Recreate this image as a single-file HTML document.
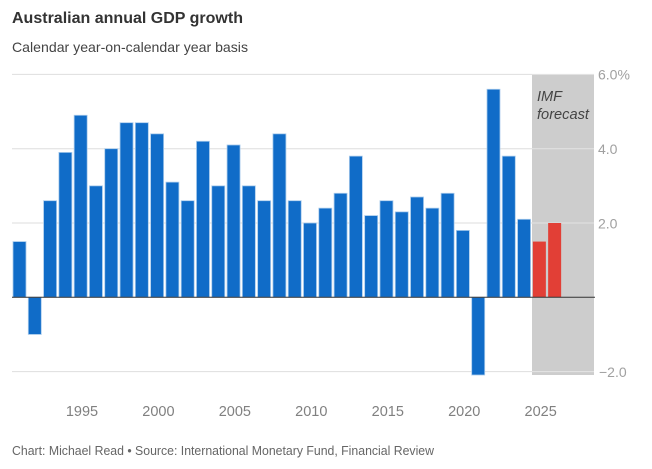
<!DOCTYPE html>
<html>
<head>
<meta charset="utf-8">
<style>
html,body{margin:0;padding:0;background:#fff;}
svg{display:block;font-family:"Liberation Sans",sans-serif;}
</style>
</head>
<body>
<svg id="chart" width="652" height="469" viewBox="0 0 652 469" xmlns="http://www.w3.org/2000/svg">
<text x="12" y="23" font-size="15.5" font-weight="700" fill="#333" textLength="231" lengthAdjust="spacingAndGlyphs">Australian annual GDP growth</text>
<text x="12" y="52" font-size="14" fill="#444" textLength="236" lengthAdjust="spacingAndGlyphs">Calendar year-on-calendar year basis</text>
<rect x="532" y="74.5" width="62" height="300.5" fill="#cdcdcd"></rect>
<g id="grid"></g>
<g id="bars"></g>
<line x1="12" x2="595" y1="297.3" y2="297.3" stroke="#333" stroke-width="1"></line>
<g id="yticks"></g>
<g id="xticks"></g>
<text x="537" y="101" font-size="14.5" font-style="italic" fill="#444" textLength="25" lengthAdjust="spacingAndGlyphs">IMF</text>
<text x="537" y="119" font-size="14.5" font-style="italic" fill="#444" textLength="52" lengthAdjust="spacingAndGlyphs">forecast</text>
<text x="12" y="455" font-size="12.5" fill="#666" textLength="422" lengthAdjust="spacingAndGlyphs">Chart: Michael Read • Source: International Monetary Fund, Financial Review</text>
</svg>
<script>
const years = [1991,1992,1993,1994,1995,1996,1997,1998,1999,2000,2001,2002,2003,2004,2005,2006,2007,2008,2009,2010,2011,2012,2013,2014,2015,2016,2017,2018,2019,2020,2021,2022,2023,2024,2025,2026];
const growth = [1.5,-1,2.6,3.9,4.9,3,4,4.7,4.7,4.4,3.1,2.6,4.2,3,4.1,3,2.6,4.4,2.6,2,2.4,2.8,3.8,2.2,2.6,2.3,2.7,2.4,2.8,1.8,-2.1,5.6,3.8,2.1,1.5,2];
const forecastYears = [2025,2026];
const yTickValues = [6,4,2,-2];
const yTickLabels = ["6.0%","4.0","2.0","\u22122.0"];
const xTickYears = [1995,2000,2005,2010,2015,2020,2025];

const NS = "http://www.w3.org/2000/svg";
function xScale(year){ return 19.5 + (year - 1991) * 15.29; }
function yScale(v){ return 297.3 - v * 37.15; }

const gridG = document.getElementById("grid");
const barsG = document.getElementById("bars");
const yG = document.getElementById("yticks");
const xG = document.getElementById("xticks");

yTickValues.forEach(function(v, i){
  const y = yScale(v);
  const left = document.createElementNS(NS, "line");
  
  
  left.setAttribute("x1", 12);
  left.setAttribute("x2", 532);
  left.setAttribute("y1", y);
  left.setAttribute("y2", y);
  left.setAttribute("stroke", "#dedede");
  gridG.appendChild(left);
  const right = document.createElementNS(NS, "line");
  
  
  right.setAttribute("x1", 532);
  right.setAttribute("x2", 594);
  right.setAttribute("y1", y);
  right.setAttribute("y2", y);
  right.setAttribute("stroke", "#e4e4e4");
  gridG.appendChild(right);
  const t = document.createElementNS(NS, "text");
  
  
  t.setAttribute("x", v < 0 ? 599 : 598);
  t.setAttribute("y", y + 5.3);
  t.setAttribute("font-size", "14");
  t.setAttribute("fill", "#a0a0a0");
  t.textContent = yTickLabels[i];
  yG.appendChild(t);
});

years.forEach(function(year, i){
  const v = growth[i];
  const r = document.createElementNS(NS, "rect");
  
  
  const cx = xScale(year);
  const forecast = forecastYears.indexOf(year) >= 0;
  const y0 = yScale(0);
  const y1 = yScale(v);
  const bottomClip = 375;
  const top = Math.min(y0, y1);
  const bottom = Math.min(Math.max(y0, y1), bottomClip);
  r.setAttribute("x", cx - 6.5);
  r.setAttribute("width", 13);
  r.setAttribute("y", top);
  r.setAttribute("height", bottom - top);
  r.setAttribute("fill", forecast ? "#e23f36" : "#106cc8");
  if (!forecast) {
    r.setAttribute("stroke", "#a9cbec");
    r.setAttribute("stroke-width", "0.8");
  }
  barsG.appendChild(r);
});

xTickYears.forEach(function(year){
  const t = document.createElementNS(NS, "text");
  
  
  t.setAttribute("x", xScale(year) + 1.3);
  t.setAttribute("y", 416);
  t.setAttribute("text-anchor", "middle");
  t.setAttribute("font-size", "14.5");
  t.setAttribute("fill", "#808080");
  t.textContent = year;
  xG.appendChild(t);
});
</script>
</body>
</html>
